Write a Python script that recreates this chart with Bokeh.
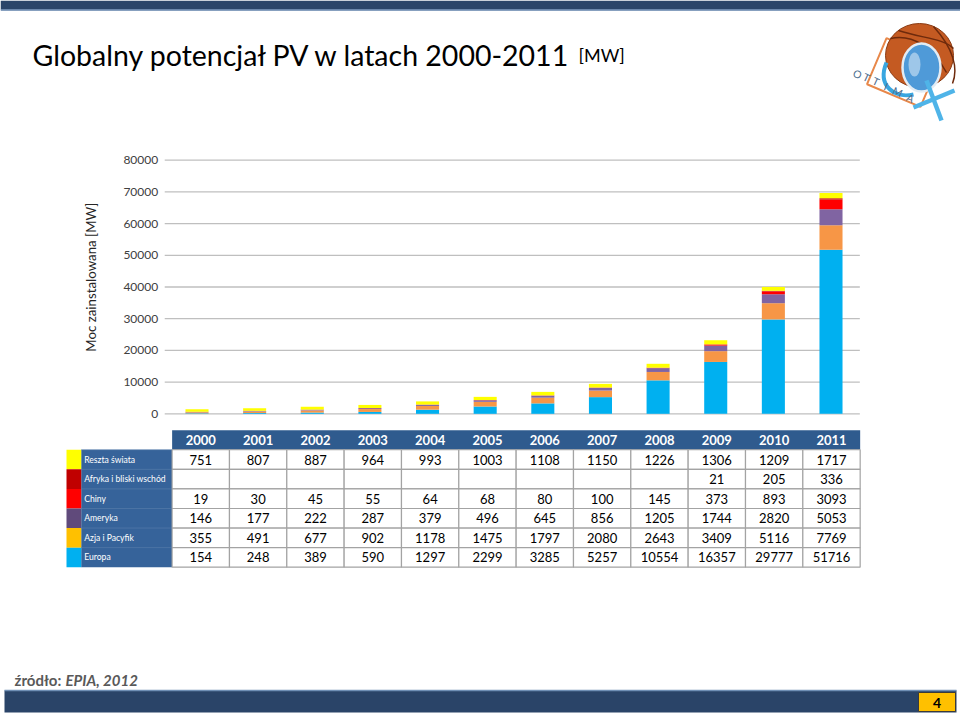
import math
from bokeh.plotting import figure
from bokeh.models import Range1d
from bokeh.core.properties import value
from bokeh.embed import file_html
from bokeh.resources import INLINE

# ---------------- data ----------------
years = [2000, 2001, 2002, 2003, 2004, 2005, 2006, 2007, 2008, 2009, 2010, 2011]
europa = [154, 248, 389, 590, 1297, 2299, 3285, 5257, 10554, 16357, 29777, 51716]
azja = [355, 491, 677, 902, 1178, 1475, 1797, 2080, 2643, 3409, 5116, 7769]
ameryka = [146, 177, 222, 287, 379, 496, 645, 856, 1205, 1744, 2820, 5053]
chiny = [19, 30, 45, 55, 64, 68, 80, 100, 145, 373, 893, 3093]
afryka = [None, None, None, None, None, None, None, None, None, 21, 205, 336]
reszta = [751, 807, 887, 964, 993, 1003, 1108, 1150, 1226, 1306, 1209, 1717]

series_names = ["Europa", "Azja i Pacyfik", "Ameryka", "Chiny",
                "Afryka i bliski wschód", "Reszta świata"]
series_values = [europa, azja, ameryka, chiny, afryka, reszta]
bar_colors = ["#00b0f0", "#f79646", "#8064a2", "#ff0000", "#c00000", "#ffff00"]
swatch_colors = ["#00b0f0", "#ffc000", "#604a7b", "#ff0000", "#c00000", "#ffff00"]

y_ticks = [0, 10000, 20000, 30000, 40000, 50000, 60000, 70000, 80000]

title_text = "Globalny potencjał PV w latach 2000-2011"
title_unit = "[MW]"
y_title = "Moc zainstalowana  [MW]"
source_a = "źródło:"
source_b = "EPIA, 2012"
page_no = "4"

# ---------------- layout ----------------
W, H = 960, 716

# year axis for bars
x2000 = 196.5
step = (830.5 - 196.5) / 11
yr_start = 2000 - x2000 / step
yr_end = yr_start + W / step

# MW axis
y0 = 413.3
y80 = 159.7
mw_per_px = 80000 / (y0 - y80)
mw_start = -(H - y0) * mw_per_px
mw_end = y0 * mw_per_px

# table columns
c2000 = 200.3
cstep = (831.0 - 200.3) / 11
col_start = 2000 - c2000 / cstep
col_end = col_start + W / cstep

# table rows
t_top = 429.7
rh = (566.7 - 429.7) / 7
row_start = (H - t_top) / rh
row_end = -t_top / rh


def colx(px):
    return col_start + px / cstep


p = figure(width=W, height=H, x_range=Range1d(0, W), y_range=Range1d(H, 0),
           output_backend="svg", toolbar_location=None, min_border=0,
           x_axis_type=None, y_axis_type=None, background_fill_color="white",
           border_fill_color="white")
p.grid.visible = False
p.outline_line_color = None
p.extra_x_ranges = {"yr": Range1d(yr_start, yr_end), "col": Range1d(col_start, col_end)}
p.extra_y_ranges = {"mw": Range1d(mw_start, mw_end), "row": Range1d(row_start, row_end)}

FONT = value("Lato")

# ---------------- top & bottom bars ----------------
p.quad(left=[0], right=[W], top=[0], bottom=[9], fill_color="#2b4569", line_color=None)
p.segment(x0=[0], x1=[W], y0=[9.5], y1=[9.5], line_color="#5f80aa", line_width=1.5)
p.quad(left=[4], right=[956], top=[690], bottom=[712], fill_color="#2a4468", line_color=None)
p.segment(x0=[4], x1=[956], y0=[690], y1=[690], line_color="#6f8fb5", line_width=1.5)
p.quad(left=[918], right=[955], top=[692], bottom=[711], fill_color="#ffc000",
       line_color="#3a3a3a", line_width=1)
p.text(x=[936.5], y=[702], text=[page_no], text_font=FONT, text_font_style="bold",
       text_font_size="14px", text_align="center", text_baseline="middle", text_color="black")

# ---------------- title ----------------
p.text(x=[32], y=[54], text=[title_text], text_font=FONT, text_font_size="28.5px",
       text_align="left", text_baseline="alphabetic", text_color="black")
p.text(x=[578], y=[54], text=[title_unit], text_font=FONT, text_font_size="18px",
       text_align="left", text_baseline="alphabetic", text_color="black")

# ---------------- source ----------------
p.text(x=[14], y=[679], text=[source_a], text_font=FONT, text_font_size="15px",
       text_align="left", text_baseline="alphabetic", text_color="#595959", text_font_style="bold")
p.text(x=[65], y=[679], text=[source_b], text_font=FONT, text_font_size="15px",
       text_align="left", text_baseline="alphabetic", text_color="#595959",
       text_font_style="bold italic")

# ---------------- logo ----------------
p.rect(x=[903], y=[72], width=[58], height=[50], angle=-0.4, fill_color=None,
       line_color="#e8884a", line_width=2)
p.ellipse(x=[919], y=[55], width=[68], height=[64], fill_color="#c45a22", line_color="#8a3a12",
          line_width=1)
p.bezier(x0=[890, 898, 933], y0=[38, 30, 26], x1=[946, 953, 952], y1=[72, 48, 83],
         cx0=[913, 923, 953], cy0=[33, 38, 48], cx1=[933, 943, 958], cy1=[48, 38, 68],
         line_color="#6e2a0c", line_width=1.5)
p.ellipse(x=[921], y=[67], width=[38], height=[48], fill_color="#4f9ad8", line_color="#e3ecf4",
          line_width=2.5)
p.ellipse(x=[914], y=[64], width=[12], height=[24], fill_color="white", fill_alpha=0.45,
          line_color=None)
p.bezier(x0=[886], y0=[62], x1=[913], y1=[94], cx0=[876], cy0=[86], cx1=[895], cy1=[98],
         line_color="#39a6e0", line_width=4)
p.segment(x0=[926, 913], y0=[80, 107], x1=[941, 954], y1=[120, 90], line_color="#4fb4e8",
          line_width=4.5)
letters = ["O", "T", "T", "I", "M", "A"]
lx = [857, 866, 875.5, 885.5, 897, 910]
ly = [73.5, 77, 81, 86, 91.5, 97.5]
p.text(x=lx, y=ly, text=letters, angle=-0.43, text_font=FONT, text_font_size="10.5px",
       text_align="center", text_baseline="middle", text_color="#4d6d8e")

# ---------------- bar chart ----------------
p.segment(x0=[1999.44] * len(y_ticks), x1=[2011.5] * len(y_ticks), y0=y_ticks, y1=y_ticks,
          line_color="#bfbfbf", line_width=1.3, x_range_name="yr", y_range_name="mw")
p.text(x=[1999.5] * len(y_ticks), y=y_ticks, text=[str(t) for t in y_ticks], x_offset=-10,
       text_font=FONT, text_font_size="12px", text_align="right", text_baseline="middle",
       text_color="#404040", x_range_name="yr", y_range_name="mw")
p.text(x=[90], y=[275], text=[y_title], angle=math.pi / 2, text_font=FONT,
       text_font_size="13.3px", text_align="center", text_baseline="middle",
       text_color="#262626")

cum = [0] * len(years)
for vals, col in zip(series_values, bar_colors):
    v = [x or 0 for x in vals]
    top = [c + x for c, x in zip(cum, v)]
    p.vbar(x=years, bottom=cum, top=top, width=0.4, fill_color=col, line_color=None,
           x_range_name="yr", y_range_name="mw")
    cum = top

# ---------------- table ----------------
head_blue = "#2f5b8e"
lab_blue = "#36639a"
n = len(years)
p.quad(left=[1999.5], right=[2011.5], top=[0], bottom=[1], fill_color=head_blue,
       line_color=None, x_range_name="col", y_range_name="row")
p.text(x=years, y=[0.5] * n, text=[str(y) for y in years], text_font=FONT,
       text_font_style="bold", text_font_size="13px", text_align="center",
       text_baseline="middle", text_color="white", x_range_name="col", y_range_name="row")

table_rows = list(reversed(series_values))
table_names = list(reversed(series_names))
table_swatch = list(reversed(swatch_colors))

lab_left = colx(80.7)
sw_left = colx(66.0)
p.quad(left=[lab_left], right=[1999.5], top=[1], bottom=[1 + len(table_rows)],
       fill_color=lab_blue, line_color=None, x_range_name="col", y_range_name="row")

for r, (vals, name, sw) in enumerate(zip(table_rows, table_names, table_swatch)):
    rt = 1 + r
    p.quad(left=[y - 0.5 for y in years], right=[y + 0.5 for y in years], top=[rt] * n,
           bottom=[rt + 1] * n, fill_color="white", line_color="#a3a3a3", line_width=1.2,
           x_range_name="col", y_range_name="row")
    txt = ["" if v is None else str(v) for v in vals]
    p.text(x=years, y=[rt + 0.5] * n, text=txt, text_font=FONT, text_font_size="13px",
           text_align="center", text_baseline="middle", text_color="black",
           x_range_name="col", y_range_name="row")
    p.quad(left=[sw_left], right=[lab_left], top=[rt], bottom=[rt + 1], fill_color=sw,
           line_color=None, x_range_name="col", y_range_name="row")
    p.segment(x0=[lab_left], x1=[1999.5], y0=[rt], y1=[rt], line_color="#5b80ad",
              line_width=0.6, x_range_name="col", y_range_name="row")
    p.text(x=[lab_left], y=[rt + 0.5], text=[name], x_offset=3, text_font=FONT,
           text_font_size="8.6px", text_align="left", text_baseline="middle",
           text_color="white", x_range_name="col", y_range_name="row")

open("out.html", "w").write(file_html(p, INLINE))
